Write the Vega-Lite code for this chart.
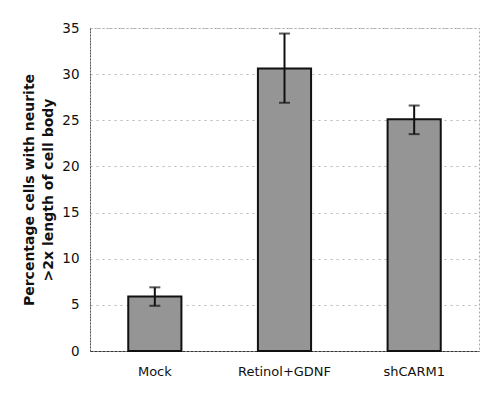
{
  "$schema": "https://vega.github.io/schema/vega-lite/v6.json",
  "autosize": "none",
  "width": 389,
  "height": 323,
  "padding": {"left": 90, "top": 28, "right": 14, "bottom": 44},
  "background": "white",
  "config": {
    "font": "DejaVu Sans",
    "view": {"stroke": "#aaaaaa", "strokeDash": [2, 2], "strokeWidth": 1}
  },
  "data": {
    "values": [
      {"group": "Mock", "value": 5.9, "lo": 4.9, "hi": 6.9},
      {"group": "Retinol+GDNF", "value": 30.6, "lo": 26.9, "hi": 34.4},
      {"group": "shCARM1", "value": 25.1, "lo": 23.5, "hi": 26.6}
    ]
  },
  "encoding": {
    "x": {
      "field": "group",
      "type": "nominal",
      "sort": null,
      "scale": {"paddingInner": 0.59, "paddingOuter": 0.295},
      "axis": {
        "title": null,
        "labelAngle": 0,
        "labelFontSize": 13,
        "labelColor": "#111111",
        "labelPadding": 14,
        "ticks": false,
        "domainColor": "#333333",
        "domainDash": [3, 1]
      }
    }
  },
  "layer": [
    {
      "mark": {"type": "bar", "fill": "#959595", "stroke": "#111111", "strokeWidth": 2},
      "encoding": {
        "y": {
          "field": "value",
          "type": "quantitative",
          "scale": {"domain": [0, 35]},
          "axis": {
            "title": ["Percentage cells with neurite", ">2x length of cell body"],
            "titleFontSize": 14,
            "titleFontWeight": "bold",
            "titleColor": "#111111",
            "titlePadding": 6,
            "titleLineHeight": 19,
            "values": [0, 5, 10, 15, 20, 25, 30, 35],
            "labelFontSize": 13.5,
            "labelColor": "#111111",
            "labelPadding": 11,
            "ticks": false,
            "grid": true,
            "gridColor": "#b5b5b5",
            "gridDash": [2, 4],
            "domainColor": "#555555",
            "domainDash": [2, 1]
          }
        }
      }
    },
    {
      "mark": {"type": "rule", "color": "#111111", "strokeWidth": 2},
      "encoding": {
        "y": {"field": "lo", "type": "quantitative"},
        "y2": {"field": "hi"}
      }
    },
    {
      "mark": {"type": "tick", "color": "#111111", "thickness": 2, "size": 11},
      "encoding": {"y": {"field": "hi", "type": "quantitative"}}
    },
    {
      "mark": {"type": "tick", "color": "#111111", "thickness": 2, "size": 11},
      "encoding": {"y": {"field": "lo", "type": "quantitative"}}
    }
  ]
}
